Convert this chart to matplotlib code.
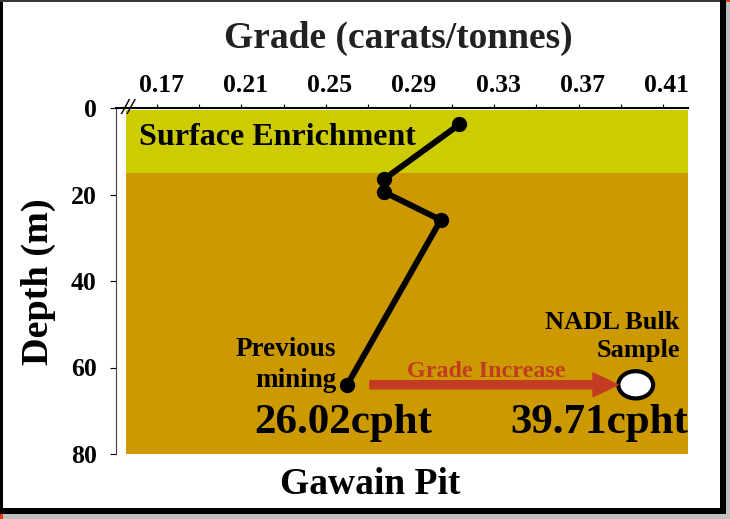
import matplotlib.pyplot as plt
from matplotlib.patches import Rectangle, Ellipse
from matplotlib.transforms import ScaledTranslation

# data
grade = [0.3134, 0.2776, 0.2776, 0.3046, 0.2602]
depth = [3.8, 16.5, 19.4, 25.9, 64.0]
bulk_grade = 0.3971
bulk_depth = 64.0
zones = [("Surface Enrichment", 0.5, 15.0, "#CCCC00"), ("", 15.0, 80.0, "#CC9900")]
xticks = [0.17, 0.19, 0.21, 0.23, 0.25, 0.27, 0.29, 0.31, 0.33, 0.35, 0.37, 0.39, 0.41]
yticks = [0, 20, 40, 60, 80]

plt.rcParams['font.family'] = ['Liberation Serif', 'DejaVu Serif']
plt.rcParams['font.weight'] = 'bold'

W, H = 730, 519
fig = plt.figure(figsize=(W / 100, H / 100), dpi=100)

# frame around the slide picture (pixel boxes)
def box(x0, y0, x1, y1, color):
    fig.add_artist(Rectangle((x0 / W, 1 - y1 / H), (x1 - x0) / W, (y1 - y0) / H,
                             transform=fig.transFigure, color=color, lw=0))

box(0, 514, 730, 519, "#C0C0C0")
box(726, 0, 730, 519, "#C0C0C0")
box(0, 0, 3, 514, "black")
box(720, 0, 726, 514, "black")
box(0, 508, 726, 514, "black")
box(0, 0, 720, 2, "#383838")
box(726, 0, 730, 2, "#E0400F")
box(0, 514, 3, 519, "#E0400F")

ax = fig.add_axes([116 / W, 1 - 454 / H, (688 - 116) / W, (454 - 108) / H])
ax.set_xlim(0.1505, 0.4219)
ax.set_ylim(80, 0)
ax.patch.set_alpha(0)

x0_fill = 0.1553
for name, top, bot, col in zones:
    ax.add_patch(Rectangle((x0_fill, top), 0.4219 - x0_fill, bot - top,
                           color=col, lw=0, zorder=0))

ax.plot(grade, depth, color="black", lw=4.3, marker="o", ms=10, zorder=3)
ax.add_patch(Ellipse((bulk_grade, bulk_depth), 0.0165, 6.3, facecolor="white",
                     edgecolor="black", lw=3, zorder=3))

ax.annotate("", xy=(0.3887, bulk_depth), xytext=(0.2710, bulk_depth),
            arrowprops=dict(arrowstyle="simple,head_width=1.7,head_length=1.8,tail_width=0.58",
                            mutation_scale=10, color="#C23B22", shrinkA=0, shrinkB=0))
ax.text(0.3261, 61.0, "Grade Increase", color="#C23B22", fontsize=17.3,
        ha="center", va="center", fontweight="bold")

ax.text(0.1615, 6.9, zones[0][0], fontsize=23, ha="left", va="center")
ax.text(0.2549, 59.4, "Previous\nmining", fontsize=19.5, ha="right", va="center",
        multialignment="right", linespacing=1.3)
ax.text(0.4181, 52.8, "NADL Bulk\nSample", fontsize=19, ha="right", va="center",
        multialignment="right", linespacing=1.3)
ax.text(0.2582, 72.8, "26.02cpht", fontsize=31, ha="center", va="center")
ax.text(0.3797, 72.8, "39.71cpht", fontsize=31, ha="center", va="center")
ax.text(0.1560, 0.2, "//", fontsize=17, ha="center", va="center", clip_on=False,
        fontstyle="italic")

ax.xaxis.tick_top()
ax.set_xticks(xticks)
ax.set_xticklabels([f"{v:.2f}" if i % 2 == 0 else "" for i, v in enumerate(xticks)])
ax.set_yticks(yticks)
ax.tick_params(axis="x", length=3, pad=5, labelsize=18.5)
ax.tick_params(axis="y", length=4, pad=10, labelsize=18.5)
for lbl in ax.get_xticklabels():
    lbl.set_transform(lbl.get_transform() + ScaledTranslation(4 / 100, 0, fig.dpi_scale_trans))

for s in ["bottom", "right"]:
    ax.spines[s].set_visible(False)
ax.spines["top"].set_linewidth(1.5)
ax.spines["left"].set_color("#404040")

fig.text(398 / W, 1 - 38 / H, "Grade (carats/tonnes)", fontsize=27, ha="center", va="center",
         color="#222222")
fig.text(38 / W, 1 - 282 / H, "Depth (m)", fontsize=27.5, ha="center", va="center", rotation=90)
fig.text(370 / W, 1 - 485 / H, "Gawain Pit", fontsize=27, ha="center", va="center")

fig.savefig("out.png", dpi=100)
